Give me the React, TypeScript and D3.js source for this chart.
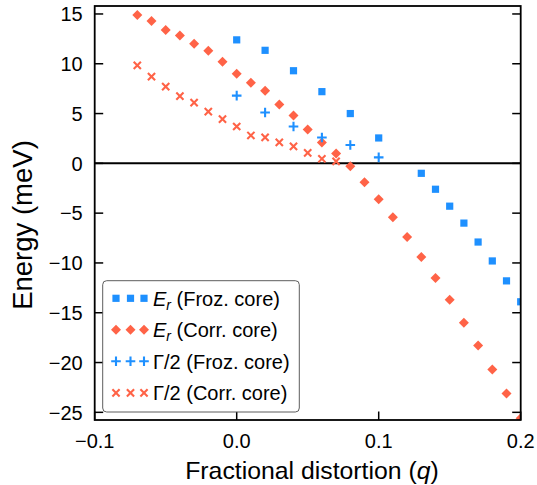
import React from "react";
import * as d3 from "d3";

const qFroz = [0.0, 0.02, 0.04, 0.06, 0.08, 0.1, 0.13, 0.14, 0.15, 0.16, 0.17, 0.18, 0.19, 0.2];
const erFroz = [12.4, 11.35, 9.3, 7.2, 5.0, 2.55, -1.0, -2.6, -4.3, -6.0, -7.9, -9.8, -11.8, -13.9];

const qCorr = [-0.07, -0.06, -0.05, -0.04, -0.03, -0.02, -0.01, 0.0, 0.01, 0.02, 0.03, 0.04, 0.05, 0.06, 0.07, 0.08, 0.09, 0.1, 0.11, 0.12, 0.13, 0.14, 0.15, 0.16, 0.17, 0.18, 0.19, 0.2];
const erCorr = [14.9, 14.3, 13.4, 12.85, 12.0, 11.3, 10.2, 9.0, 8.1, 7.3, 5.9, 4.8, 3.4, 2.1, 1.0, -0.3, -1.9, -3.6, -5.4, -7.4, -9.4, -11.5, -13.7, -16.0, -18.3, -20.7, -23.1, -25.6];

const qGamFroz = [0.0, 0.02, 0.04, 0.06, 0.08, 0.1];
const gamFroz = [6.8, 5.1, 3.7, 2.6, 1.85, 0.6];

const qGamCorr = [-0.07, -0.06, -0.05, -0.04, -0.03, -0.02, -0.01, 0.0, 0.01, 0.02, 0.03, 0.04, 0.05, 0.06, 0.07];
const gamCorr = [9.84, 8.7, 7.7, 6.75, 6.1, 5.2, 4.45, 3.7, 2.8, 2.6, 2.1, 1.7, 1.05, 0.46, 0.2];

const xTicks = [-0.1, 0.0, 0.1, 0.2];
const yTicks = [15, 10, 5, 0, -5, -10, -15, -20, -25];

const BLUE = "#1E90FF";
const RED = "#FF6347";

const L = 94.7, R = 520.7, T = 6, B = 420;

type Kind = "square" | "diamond" | "plus" | "x";

function Marker({ x, y, kind, color }: { x: number; y: number; kind: Kind; color: string }) {
  if (kind === "square") return <rect x={x - 3.6} y={y - 3.6} width={7.2} height={7.2} fill={color} />;
  if (kind === "diamond") {
    const r = 5;
    return <path d={`M${x},${y - r}L${x + r},${y}L${x},${y + r}L${x - r},${y}Z`} fill={color} />;
  }
  if (kind === "plus") {
    const r = 4.8;
    return (
      <path d={`M${x - r},${y}L${x + r},${y}M${x},${y - r}L${x},${y + r}`} stroke={color} strokeWidth={2.1} fill="none" />
    );
  }
  const r = 3.6;
  return (
    <path d={`M${x - r},${y - r}L${x + r},${y + r}M${x - r},${y + r}L${x + r},${y - r}`} stroke={color} strokeWidth={2.1} fill="none" />
  );
}

export default function App() {
  const x = d3.scaleLinear().domain([-0.1, 0.2]).range([L, R]);
  const y = d3.scaleLinear().domain([-25.77, 15.8]).range([B, T]);

  const series: { qs: number[]; vs: number[]; kind: Kind; color: string }[] = [
    { qs: qFroz, vs: erFroz, kind: "square", color: BLUE },
    { qs: qCorr, vs: erCorr, kind: "diamond", color: RED },
    { qs: qGamFroz, vs: gamFroz, kind: "plus", color: BLUE },
    { qs: qGamCorr, vs: gamCorr, kind: "x", color: RED },
  ];

  const legendRows: { kind: Kind; color: string; label: React.ReactNode }[] = [
    { kind: "square", color: BLUE, label: <><tspan fontStyle="italic">E</tspan><tspan fontStyle="italic" fontSize="14" dy="4">r</tspan><tspan dy="-4"> (Froz. core)</tspan></> },
    { kind: "diamond", color: RED, label: <><tspan fontStyle="italic">E</tspan><tspan fontStyle="italic" fontSize="14" dy="4">r</tspan><tspan dy="-4"> (Corr. core)</tspan></> },
    { kind: "plus", color: BLUE, label: <>Γ/2 (Froz. core)</> },
    { kind: "x", color: RED, label: <>Γ/2 (Corr. core)</> },
  ];

  const font = "Liberation Sans, Arial, sans-serif";

  return (
    <svg width={537} height={485} style={{ position: "absolute", left: 0, top: 0 }} fontFamily={font}>
      <rect width={537} height={485} fill="white" />
      <defs>
        <clipPath id="plotclip">
          <rect x={L} y={T} width={R - L} height={B - T} />
        </clipPath>
      </defs>
      <line x1={L} x2={R} y1={y(0)} y2={y(0)} stroke="black" strokeWidth={2} />
      <g clipPath="url(#plotclip)">
        {series.map((s, si) =>
          s.qs.map((q, i) => <Marker key={si + "-" + i} x={x(q)} y={y(s.vs[i])} kind={s.kind} color={s.color} />)
        )}
      </g>
      {yTicks.map((t) => (
        <g key={"y" + t}>
          <line x1={L} x2={L + 8.5} y1={y(t)} y2={y(t)} stroke="black" strokeWidth={1.5} />
          <line x1={R} x2={R - 8.5} y1={y(t)} y2={y(t)} stroke="black" strokeWidth={1.5} />
          <text x={L - 12} y={y(t)} dy="0.36em" textAnchor="end" fontSize={20}>
            {t < 0 ? "\u2212" + Math.abs(t) : String(t)}
          </text>
        </g>
      ))}
      {xTicks.map((t) => (
        <g key={"x" + t}>
          <line x1={x(t)} x2={x(t)} y1={B} y2={B - 8.5} stroke="black" strokeWidth={1.5} />
          <text x={x(t)} y={448} textAnchor="middle" fontSize={20}>
            {t < 0 ? "\u2212" + Math.abs(t).toFixed(1) : t.toFixed(1)}
          </text>
        </g>
      ))}
      <rect x={L} y={T} width={R - L} height={B - T} fill="none" stroke="black" strokeWidth={1.8} />
      <text x={312} y={479} textAnchor="middle" fontSize={24.8}>
        Fractional distortion (<tspan fontStyle="italic">q</tspan>)
      </text>
      <text transform={`translate(31.5,225) rotate(-90)`} textAnchor="middle" fontSize={27.5}>
        Energy (meV)
      </text>
      <rect x={102.7} y={280.7} width={196.6} height={131.3} rx={4} fill="white" stroke="#555" strokeWidth={1} opacity={0.95} />
      {legendRows.map((r, i) => {
        const cy = 298.3 + i * 31.5;
        return (
          <g key={"lg" + i}>
            {[116, 130.5, 144].map((mx) => (
              <Marker key={mx} x={mx} y={cy} kind={r.kind} color={r.color} />
            ))}
            <text x={153} y={cy} dy="0.36em" fontSize={20}>
              {r.label}
            </text>
          </g>
        );
      })}
    </svg>
  );
}
